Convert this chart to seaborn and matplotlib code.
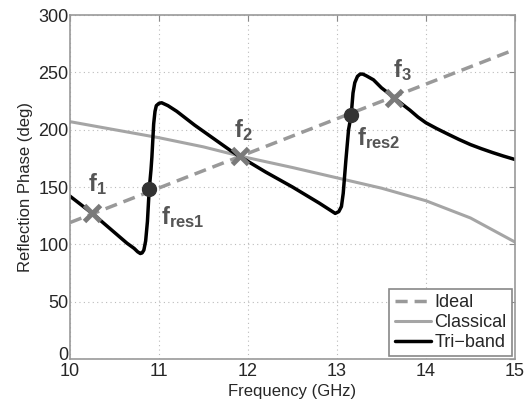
import matplotlib
matplotlib.use('Agg')
import matplotlib.pyplot as plt
import matplotlib.transforms as mtransforms
import seaborn as sns

# Read-off values (frequency in GHz, phase in deg)
ideal_f = [10.0, 15.0]
ideal_ph = [119, 270]

classical_f = [10.0, 10.5, 11.0, 11.5, 11.91, 12.5, 13.0, 13.5, 14.0, 14.5, 15.0]
classical_ph = [207, 200, 193, 185, 177, 167, 158, 149, 138, 123, 102]

triband_f = [10.00, 10.10, 10.25, 10.40, 10.55, 10.64, 10.72, 10.76, 10.79, 10.81,
             10.83, 10.85, 10.87, 10.89, 10.91, 10.92, 10.94, 10.955, 10.97, 11.00,
             11.03, 11.10, 11.20, 11.40, 11.60, 11.80, 11.91, 12.20, 12.50, 12.80,
             12.90, 12.95, 12.98, 13.02, 13.05, 13.07, 13.10, 13.13, 13.16, 13.18,
             13.20, 13.23, 13.26, 13.29, 13.33, 13.41, 13.50, 13.63, 13.72, 13.82,
             13.91, 14.00, 14.12, 14.25, 14.37, 14.50, 14.62, 14.75, 14.87, 15.00]
triband_ph = [142, 136, 127, 117, 107, 101, 96.5, 93.5, 92, 92.5,
              95, 103, 120, 148, 165, 176, 205, 216, 221, 223,
              223.5, 221, 216, 204, 193, 182, 176.5, 163, 150, 136,
              131, 128.5, 127, 128.5, 133, 144.5, 173.5, 200, 213, 232,
              241, 246.5, 248.5, 248.5, 247, 243.5, 236.5, 228.7, 223, 217,
              211, 206, 201, 196, 191.5, 187, 183.5, 180, 177, 174]

design_f = [10.25, 11.91, 13.64]
design_ph = [127, 177, 228]
res_f = [10.89, 13.16]
res_ph = [148, 213]

sns.set_style('white')
plt.rcParams['font.family'] = ['Liberation Sans', 'DejaVu Sans']
plt.rcParams['mathtext.fontset'] = 'custom'
plt.rcParams['mathtext.rm'] = 'Liberation Sans'
plt.rcParams['mathtext.bf'] = 'Liberation Sans:bold'

fig = plt.figure(figsize=(5.32, 4.07), dpi=100)
ax = fig.add_axes([0.1316, 0.118, 0.8364, 0.845])

sns.lineplot(x=ideal_f, y=ideal_ph, ax=ax, color='#999999', lw=2.5,
             linestyle=(0, (3.5, 2)), label='Ideal')
sns.lineplot(x=classical_f, y=classical_ph, ax=ax, color='#a5a5a5', lw=2.2,
             label='Classical')
sns.lineplot(x=triband_f, y=triband_ph, ax=ax, color='black', lw=2.5,
             sort=False, label='Tri\u2212band')
ax.lines[-1].set_solid_joinstyle('round')

ax.plot(design_f, design_ph, linestyle='none', marker='x', ms=11, mew=3.5,
        color='#7a7a7a')
ax.plot(res_f, res_ph, linestyle='none', marker='o', ms=10, color='#333333')

lab = dict(color='#555555', fontsize=17, fontweight='bold')
ax.text(10.31, 153, r'$\mathbf{f_1}$', ha='center', va='center', **lab)
ax.text(11.95, 200, r'$\mathbf{f_2}$', ha='center', va='center', **lab)
ax.text(13.73, 252, r'$\mathbf{f_3}$', ha='center', va='center', **lab)
ax.text(11.02, 124, r'$\mathbf{f_{res1}}$', ha='left', va='center', **lab)
ax.text(13.22, 193, r'$\mathbf{f_{res2}}$', ha='left', va='center', **lab)

ax.set_xlim(10, 15)
ax.set_ylim(0, 300)
ax.set_xticks([10, 11, 12, 13, 14, 15])
ax.set_yticks([0, 50, 100, 150, 200, 250, 300])
ax.grid(True, linestyle=(0, (1, 3)), color='#bbbbbb', lw=0.8)
ax.tick_params(direction='in', top=True, right=True, length=4, color='#888888',
               labelsize=13, pad=1)
ax.tick_params(axis='x', pad=3)
for s in ax.spines.values():
    s.set_color('#999999')
    s.set_linewidth(1.2)
ax.set_xlabel('Frequency (GHz)', fontsize=12, labelpad=3)
ax.set_ylabel('Reflection Phase (deg)', fontsize=12, labelpad=4)

# lift the "0" tick label a little so it clears the "10" below it
zero_lbl = ax.get_yticklabels()[0]
zero_lbl.set_transform(zero_lbl.get_transform() +
                       mtransforms.ScaledTranslation(0, 4 / 72, fig.dpi_scale_trans))

leg = ax.legend(loc='lower right', fontsize=13, handlelength=2.0,
                borderaxespad=0.15, fancybox=False, framealpha=1,
                handletextpad=0.2, labelspacing=0.15, borderpad=0.3)
leg.get_frame().set_edgecolor('#888888')
leg.get_frame().set_linewidth(1.2)

fig.savefig('out.png', dpi=100)
